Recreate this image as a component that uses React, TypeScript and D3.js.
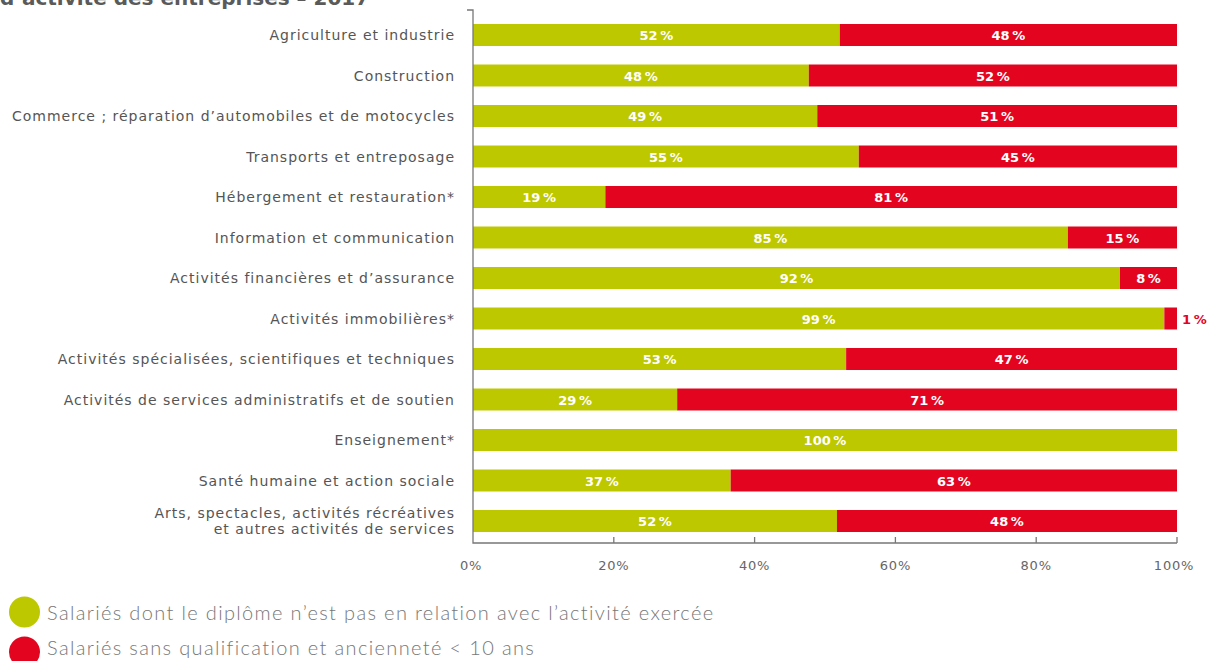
import React from "react";
import * as d3 from "d3";

const categories: string[][] = [
  ["Agriculture et industrie"],
  ["Construction"],
  ["Commerce ; réparation d’automobiles et de motocycles"],
  ["Transports et entreposage"],
  ["Hébergement et restauration*"],
  ["Information et communication"],
  ["Activités financières et d’assurance"],
  ["Activités immobilières*"],
  ["Activités spécialisées, scientifiques et techniques"],
  ["Activités de services administratifs et de soutien"],
  ["Enseignement*"],
  ["Santé humaine et action sociale"],
  ["Arts, spectacles, activités récréatives", "et autres activités de services"],
];
const greenValues = [52.1, 47.7, 48.9, 54.8, 18.8, 84.5, 91.9, 98.2, 53.0, 29.0, 100, 36.6, 51.7];
const greenLabels = ["52", "48", "49", "55", "19", "85", "92", "99", "53", "29", "100", "37", "52"];
const redLabels = ["48", "52", "51", "45", "81", "15", "8", "1", "47", "71", "", "63", "48"];
const xTicks = [0, 20, 40, 60, 80, 100];
const seriesNames = [
  "Salariés dont le diplôme n’est pas en relation avec l’activité exercée",
  "Salariés sans qualification et ancienneté < 10 ans",
];
const title = "d’activité des entreprises – 2017";

const GREEN = "#bdc800";
const RED = "#e3051f";
const SANS = "'DejaVu Sans', sans-serif";
const LIGHT = "Lato, 'Open Sans', sans-serif";

export default function App() {
  const W = 1213, H = 661;
  const x = d3.scaleLinear().domain([0, 100]).range([473, 1177]);
  const idx = categories.map((_, i) => String(i));
  const y = d3.scaleBand().domain(idx).range([14.75, 541.25]).paddingInner(0.457).paddingOuter(0.2285);
  const bw = y.bandwidth();
  const axisY = 543;
  return (
    <svg width={W} height={H} style={{ position: "absolute", left: 0, top: 0, background: "#fff" }} fontFamily={SANS}>
      <text x={0} y={4.5} fontSize={20} fontWeight={700} fill="#5a5a5a">{title}</text>
      {categories.map((lines, i) => {
        const yc = (y(String(i)) as number) + bw / 2;
        const g = greenValues[i];
        const r = 100 - g;
        return (
          <g key={i}>
            {lines.map((t, j) => (
              <text key={j} x={455} y={yc + (j - (lines.length - 1) / 2) * 16 + 5} textAnchor="end" fontSize={14} letterSpacing={1} fill="#555">{t}</text>
            ))}
            <rect x={x(0)} y={y(String(i))} width={x(g) - x(0)} height={bw} fill={GREEN} />
            {r > 0 && <rect x={x(g)} y={y(String(i))} width={x(100) - x(g)} height={bw} fill={RED} />}
            <text x={(x(0) + x(g)) / 2} y={yc + 5} textAnchor="middle" fontSize={13} fontWeight={700} fill="#fff">{greenLabels[i]}{"\u2009%"}</text>
            {redLabels[i] !== "" && (r > 3 ? (
              <text x={(x(g) + x(100)) / 2} y={yc + 5} textAnchor="middle" fontSize={13} fontWeight={700} fill="#fff">{redLabels[i]}{"\u2009%"}</text>
            ) : (
              <text x={x(100) + 5} y={yc + 5} textAnchor="start" fontSize={13} fontWeight={700} fill={RED}>{redLabels[i]}{"\u2009%"}</text>
            ))}
          </g>
        );
      })}
      <path d={`M467,10H${x(0)}V${axisY}H${x(100)}`} fill="none" stroke="#777" strokeWidth={1.3} />
      {xTicks.map((t) => (
        <g key={t}>
          {t > 0 && <line x1={x(t)} x2={x(t)} y1={axisY} y2={axisY - 6} stroke="#777" strokeWidth={1.3} />}
          <text x={x(t) - (t === 0 ? 2 : t === 100 ? 3 : 0)} y={570} textAnchor="middle" fontSize={13} letterSpacing={0.8} fill="#666">{t}%</text>
        </g>
      ))}
      {seriesNames.map((s, i) => (
        <g key={s}>
          <circle cx={24.5} cy={612 + i * 40} r={15.5} fill={i === 0 ? GREEN : RED} />
          <text x={47} y={620 + i * 35} fontFamily={LIGHT} fontSize={20} fontWeight={300} letterSpacing={1.35} fill="#777">{s}</text>
        </g>
      ))}
    </svg>
  );
}
